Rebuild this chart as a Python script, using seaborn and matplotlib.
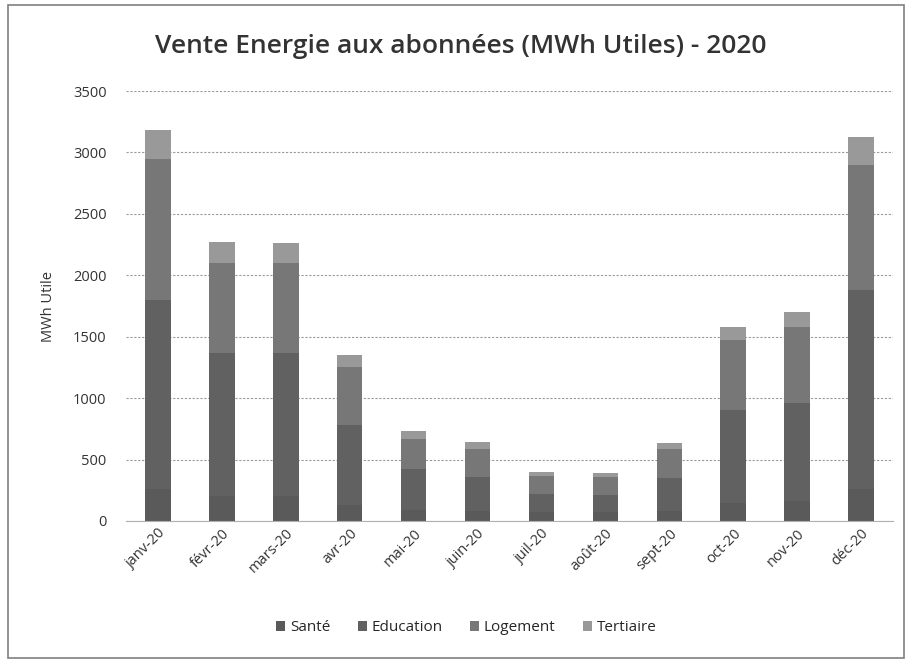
import numpy as np
import matplotlib as mpl
import matplotlib.pyplot as plt
import seaborn as sns
import pandas as pd

months = ['janv-20', 'févr-20', 'mars-20', 'avr-20', 'mai-20', 'juin-20',
          'juil-20', 'août-20', 'sept-20', 'oct-20', 'nov-20', 'déc-20']
sectors = ['Santé', 'Education', 'Logement', 'Tertiaire']

sante = [260, 200, 200, 130, 90, 80, 70, 70, 80, 150, 160, 260]
education = [1540, 1170, 1170, 650, 330, 280, 150, 140, 270, 750, 800, 1620]
logement = [1150, 730, 730, 470, 250, 230, 150, 150, 240, 570, 620, 1020]
tertiaire = [230, 170, 162, 100, 60, 50, 30, 30, 45, 110, 120, 225]

colors = {'Santé': '#5a5a5a', 'Education': '#616161',
          'Logement': '#777777', 'Tertiaire': '#999999'}

df = pd.DataFrame({'mois': months, 'Santé': sante, 'Education': education,
                   'Logement': logement, 'Tertiaire': tertiaire})

sns.set_style('white')
plt.rcParams['font.family'] = ['Open Sans', 'DejaVu Sans']

fig = plt.figure(figsize=(9.09, 6.62), dpi=100)
ax = fig.add_axes([0.1386, 0.2130, 0.8438, 0.6495])

# stacked bars: draw cumulative sums from the top series down
cum = df[sectors].cumsum(axis=1)
for s in reversed(sectors):
    sns.barplot(x=df['mois'], y=cum[s], color=colors[s], width=0.40,
                ax=ax, label=s, saturation=1, linewidth=0)

handles, labels = ax.get_legend_handles_labels()
if ax.get_legend() is not None:
    ax.get_legend().remove()

ax.set_ylim(0, 3500)
ax.set_yticks(range(0, 3501, 500))
ax.yaxis.grid(True, linestyle=(0, (2, 1.5)), color='#9a9a9a', linewidth=0.8)
ax.set_axisbelow(True)
for sp in ['top', 'right', 'left']:
    ax.spines[sp].set_visible(False)
ax.spines['bottom'].set_color('#b0b0b0')
ax.tick_params(axis='both', length=0, labelsize=10.5, colors='#333333')
ax.tick_params(axis='y', pad=14)
plt.setp(ax.get_xticklabels(), rotation=45, ha='right', rotation_mode='anchor')
ax.set_xlabel('')
ax.set_ylabel('MWh Utile', fontsize=10.5, color='#333333', labelpad=12)

fig.suptitle('Vente Energie aux abonnées (MWh Utiles) - 2020', x=0.507, y=0.948,
             fontsize=19, fontweight='semibold', color='#333333')

order = [labels.index(s) for s in sectors]
fig.legend([handles[i] for i in order], sectors, loc='center', ncol=4,
           bbox_to_anchor=(0.513, 0.052), frameon=False, fontsize=11,
           handlelength=0.6, handleheight=0.6, handletextpad=0.3, columnspacing=1.8)

fig.patches.append(mpl.patches.Rectangle((0.009, 0.006), 0.985, 0.986, transform=fig.transFigure,
                                         fill=False, edgecolor='#808080', linewidth=1.2))

fig.savefig('out.png', dpi=100)
